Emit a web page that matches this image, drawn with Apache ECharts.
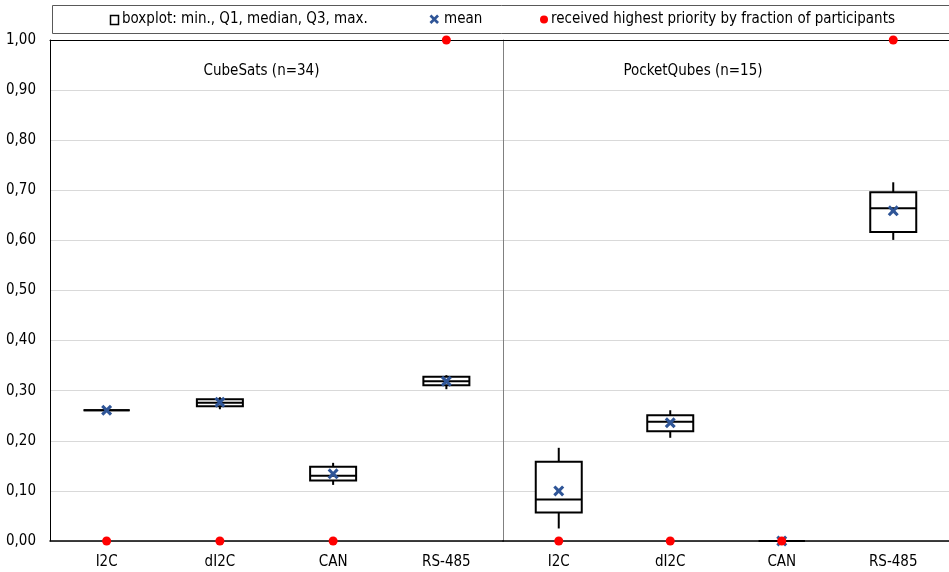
<!DOCTYPE html>
<html>
<head>
<meta charset="utf-8">
<script src="https://cdn.jsdelivr.net/npm/echarts@6/dist/echarts.min.js"></script>
<style>html,body{margin:0;padding:0;background:#fff;}#c{width:949px;height:572px;}</style>
</head>
<body>
<div id="c"></div>
<script>
// ---- data ----
const categories = ['I2C', 'dI2C', 'CAN', 'RS-485'];
const yTicks = [0, 0.1, 0.2, 0.3, 0.4, 0.5, 0.6, 0.7, 0.8, 0.9, 1.0];

const cubeMin    = [0.261, 0.263, 0.112, 0.303];
const cubeQ1     = [0.261, 0.269, 0.121, 0.311];
const cubeMedian = [0.261, 0.276, 0.130, 0.319];
const cubeQ3     = [0.261, 0.283, 0.148, 0.328];
const cubeMax    = [0.261, 0.287, 0.156, 0.331];
const cubeMean   = [0.261, 0.277, 0.134, 0.319];
const cubeTop    = [0, 0, 0, 1];

const pocketMin    = [0.025, 0.206, 0, 0.601];
const pocketQ1     = [0.057, 0.219, 0, 0.617];
const pocketMedian = [0.083, 0.238, 0, 0.664];
const pocketQ3     = [0.158, 0.251, 0, 0.696];
const pocketMax    = [0.186, 0.261, 0, 0.716];
const pocketMean   = [0.100, 0.236, 0, 0.659];
const pocketTop    = [0, 0, 0, 1];

const panelTitles = ['CubeSats (n=34)', 'PocketQubes (n=15)'];
const legendTexts = ['boxplot: min., Q1, median, Q3, max.', 'mean', 'received highest priority by fraction of participants'];

// ---- chart ----
const FONT = '"DejaVu Sans Condensed", "Liberation Sans Narrow", sans-serif';
const FS = 15;
const XPATH = 'path://M2,0L5,3L8,0L10,2L7,5L10,8L8,10L5,7L2,10L0,8L3,5L0,2Z';
const XPOLY = [[2,0],[5,3],[8,0],[10,2],[7,5],[10,8],[8,10],[5,7],[2,10],[0,8],[3,5],[0,2]];

function boxData(mn, q1, md, q3, mx) {
  return categories.map((c, i) => [i, mn[i], q1[i], md[i], q3[i], mx[i]]);
}
function renderBox(params, api) {
  const x = api.value(0);
  const pMin = api.coord([x, api.value(1)]);
  const pQ1 = api.coord([x, api.value(2)]);
  const pMed = api.coord([x, api.value(3)]);
  const pQ3 = api.coord([x, api.value(4)]);
  const pMax = api.coord([x, api.value(5)]);
  const w = 46;
  const cx = pMed[0];
  const st = { stroke: '#000', lineWidth: 2, fill: null };
  return {
    type: 'group',
    children: [
      { type: 'line', shape: { x1: cx, y1: pQ1[1], x2: cx, y2: pMin[1] }, style: st },
      { type: 'line', shape: { x1: cx, y1: pQ3[1], x2: cx, y2: pMax[1] }, style: st },
      { type: 'rect', shape: { x: cx - w / 2, y: pQ3[1], width: w, height: pQ1[1] - pQ3[1] },
        style: { stroke: '#000', lineWidth: 2, fill: '#fff' } },
      { type: 'line', shape: { x1: cx - w / 2, y1: pMed[1], x2: cx + w / 2, y2: pMed[1] }, style: st }
    ]
  };
}
function yAxisCfg(idx, showLabel, lineColor) {
  return {
    type: 'value', gridIndex: idx, min: 0, max: 1, interval: 0.1,
    axisLine: { show: true, lineStyle: { color: lineColor, width: 1 } },
    axisTick: { show: false },
    axisLabel: { show: showLabel, margin: 14, fontSize: FS, color: '#000', fontFamily: FONT,
      formatter: v => v.toFixed(2).replace('.', ',') },
    splitLine: { show: true, lineStyle: { color: '#d9d9d9', width: 1 } }
  };
}
function xBottom(idx) {
  return {
    type: 'category', gridIndex: idx, data: categories, position: 'bottom',
    axisLine: { show: true, lineStyle: { color: '#000', width: 1.5 } },
    axisTick: { show: false },
    axisLabel: { fontSize: FS, color: '#000', fontFamily: FONT, margin: 14 },
    splitLine: { show: false }
  };
}
function xTop(idx) {
  return {
    type: 'category', gridIndex: idx, data: categories, position: 'top',
    axisLine: { show: true, lineStyle: { color: '#000', width: 1 } },
    axisTick: { show: false }, axisLabel: { show: false }, splitLine: { show: false }
  };
}
function panelSeries(xB, yI, mn, q1, md, q3, mx, mean, top) {
  return [
    { type: 'custom', xAxisIndex: xB, yAxisIndex: yI, renderItem: renderBox,
      encode: { x: 0, y: [1, 2, 3, 4, 5] }, data: boxData(mn, q1, md, q3, mx), z: 3, clip: false },
    { type: 'scatter', xAxisIndex: xB, yAxisIndex: yI, symbol: XPATH, symbolSize: 11,
      itemStyle: { color: '#2F5597', opacity: 1 }, data: mean.map((v, i) => [i, v]), z: 4, clip: false },
    { type: 'scatter', xAxisIndex: xB, yAxisIndex: yI, symbol: 'circle', symbolSize: 9,
      itemStyle: { color: '#FF0000', opacity: 1 }, data: top.map((v, i) => [i, v]), z: 5, clip: false }
  ];
}

const chart = echarts.init(document.getElementById('c'), null, { renderer: 'canvas' });
chart.setOption({
  animation: false,
  backgroundColor: '#fff',
  textStyle: { fontFamily: FONT },
  grid: [
    { left: 50, top: 40, width: 453, height: 501 },
    { left: 503, top: 40, width: 450, height: 501 }
  ],
  xAxis: [xBottom(0), xTop(0), xBottom(1), xTop(1)],
  yAxis: [yAxisCfg(0, true, '#000'), yAxisCfg(1, false, '#808080')],
  series: [].concat(
    panelSeries(0, 0, cubeMin, cubeQ1, cubeMedian, cubeQ3, cubeMax, cubeMean, cubeTop),
    panelSeries(2, 1, pocketMin, pocketQ1, pocketMedian, pocketQ3, pocketMax, pocketMean, pocketTop)
  ),
  graphic: [
    { type: 'rect', shape: { x: 52.5, y: 5.5, width: 910, height: 28 },
      style: { fill: '#fff', stroke: '#595959', lineWidth: 1 }, z: 10 },
    { type: 'rect', shape: { x: 110.5, y: 15.5, width: 8, height: 9 },
      style: { fill: '#fff', stroke: '#000', lineWidth: 1.5 }, z: 11 },
    { type: 'text', x: 122, y: 19, style: { text: legendTexts[0], fontSize: FS, fontFamily: FONT,
      fill: '#000', verticalAlign: 'middle' }, z: 11 },
    { type: 'polygon', shape: { points: XPOLY.map(p => [429.5 + p[0] * 0.95, 14.5 + p[1] * 0.95]) },
      style: { fill: '#2F5597' }, z: 11 },
    { type: 'text', x: 444, y: 19, style: { text: legendTexts[1], fontSize: FS, fontFamily: FONT,
      fill: '#000', verticalAlign: 'middle' }, z: 11 },
    { type: 'circle', shape: { cx: 544, cy: 19.5, r: 4 }, style: { fill: '#FF0000' }, z: 11 },
    { type: 'text', x: 551, y: 19, style: { text: legendTexts[2], fontSize: FS, fontFamily: FONT,
      fill: '#000', verticalAlign: 'middle' }, z: 11 },
    { type: 'text', x: 261.5, y: 71, style: { text: panelTitles[0], fontSize: FS, fontFamily: FONT,
      fill: '#000', align: 'center', verticalAlign: 'middle' }, z: 11 },
    { type: 'text', x: 693, y: 71, style: { text: panelTitles[1], fontSize: FS, fontFamily: FONT,
      fill: '#000', align: 'center', verticalAlign: 'middle' }, z: 11 }
  ]
});
</script>
</body>
</html>
